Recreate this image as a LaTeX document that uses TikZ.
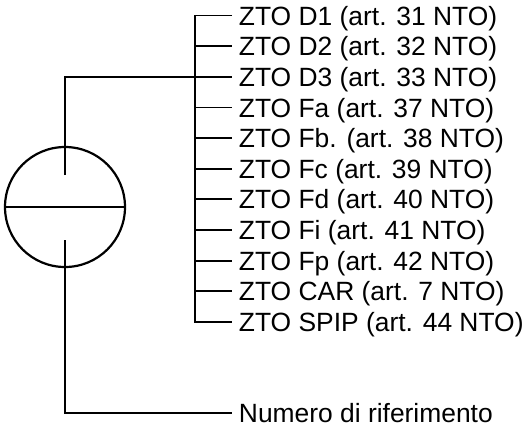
\documentclass[tikz,border=0pt]{standalone}
\usepackage{fontspec}
\setmainfont{Liberation Sans}
\usepackage{tikz}
\usetikzlibrary{positioning, calc}

\begin{document}
\begin{tikzpicture}[x=1pt, y=-1pt, line width=1.9pt,
                    every node/.style={font=\fontsize{26.4}{30}\selectfont},
                    zto/.style={anchor=west, inner xsep=6pt, inner ysep=0pt,
                                text height=19pt, text depth=0pt}]
  \useasboundingbox (0,0) rectangle (523,432);
  % symbol
  \node[circle, draw, line width=2.2pt, minimum size=120pt, inner sep=0pt] (disc) at (65,207) {};
  \draw (disc.west) -- (disc.east);
  \coordinate (up) at (65,175);
  \coordinate (dn) at (65,240);
  % bus
  \coordinate (b1)  at (195,15.5);
  \coordinate (b2)  at (195,46.2);
  \coordinate (b3)  at (195,76.8);
  \coordinate (b4)  at (195,107.5);
  \coordinate (b5)  at (195,138.1);
  \coordinate (b6)  at (195,168.8);
  \coordinate (b7)  at (195,199.4);
  \coordinate (b8)  at (195,230.1);
  \coordinate (b9)  at (195,260.7);
  \coordinate (b10) at (195,291.4);
  \coordinate (b11) at (195,322);
  \node[zto] (d1)   at ($(b1)+(37,0)$)  {ZTO D1 (art. 31 NTO)};
  \node[zto] (d2)   at ($(b2)+(37,0)$)  {ZTO D2 (art. 32 NTO)};
  \node[zto] (d3)   at ($(b3)+(37,0)$)  {ZTO D3 (art. 33 NTO)};
  \node[zto] (fa)   at ($(b4)+(37,0)$)  {ZTO Fa (art. 37 NTO)};
  \node[zto] (fb)   at ($(b5)+(37,0)$)  {ZTO Fb. (art. 38 NTO)};
  \node[zto] (fc)   at ($(b6)+(37,0)$)  {ZTO Fc (art. 39 NTO)};
  \node[zto] (fd)   at ($(b7)+(37,0)$)  {ZTO Fd (art. 40 NTO)};
  \node[zto] (fi)   at ($(b8)+(37,0)$)  {ZTO Fi (art. 41 NTO)};
  \node[zto] (fp)   at ($(b9)+(37,0)$)  {ZTO Fp (art. 42 NTO)};
  \node[zto] (car)  at ($(b10)+(37,0)$) {ZTO CAR (art. 7 NTO)};
  \node[zto] (spip) at ($(b11)+(37,0)$) {ZTO SPIP (art. 44 NTO)};
  \draw (d1.west) -- (b1) -- (b11) -- (spip.west);
  \draw (b2) -- (d2.west);
  \draw (b3) -- (d3.west);
  \draw (b4) -- (fa.west);
  \draw (b5) -- (fb.west);
  \draw (b6) -- (fc.west);
  \draw (b7) -- (fd.west);
  \draw (b8) -- (fi.west);
  \draw (b9) -- (fp.west);
  \draw (b10) -- (car.west);
  % links
  \draw (up) |- (b3);
  \node[zto] (ref) at (232,413) {Numero di riferimento};
  \draw (dn) |- (ref.west);
\end{tikzpicture}
\end{document}
